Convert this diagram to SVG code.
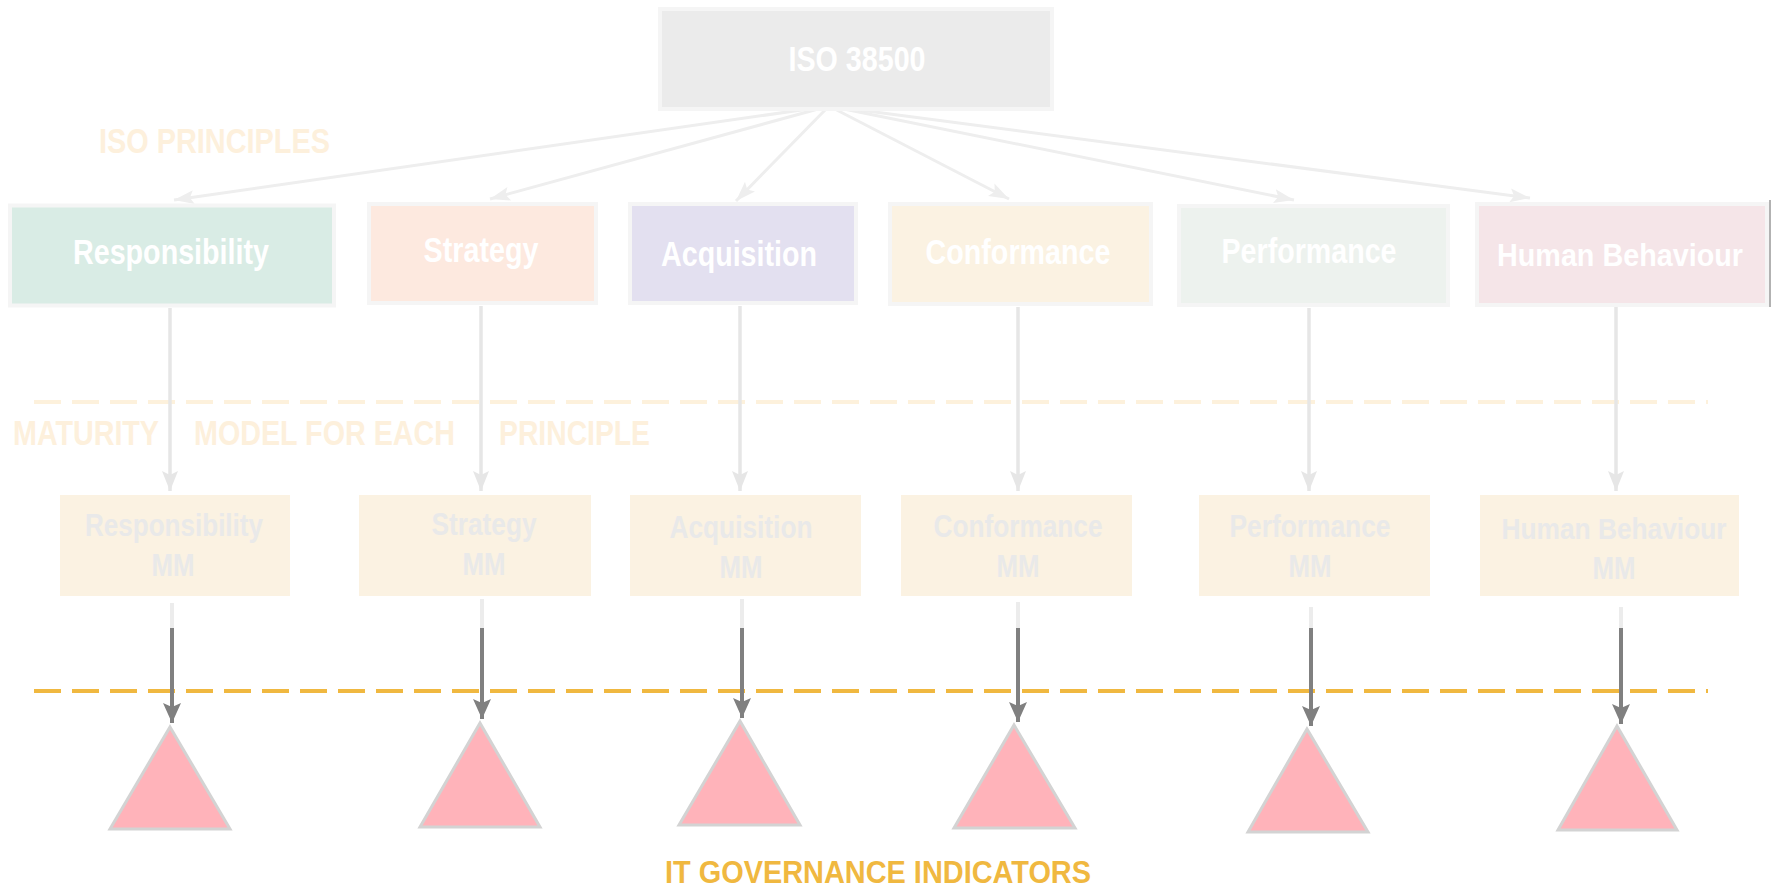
<svg xmlns="http://www.w3.org/2000/svg" width="1771" height="889" viewBox="0 0 1771 889">
<style>
text{font-family:"Liberation Sans",Arial,sans-serif;font-weight:bold;}
.lbl{fill:#ffffff;font-size:35px;text-anchor:middle;}
.mm{fill:#e9e9e9;font-size:32px;text-anchor:middle;}
.sec{fill:#fdf0dc;font-size:35px;}
.top{stroke:#f5f5f5;stroke-width:4;}
.mmbox{fill:#fbf2e2;}
.tri{fill:#ffb3ba;stroke:#d3d3d3;stroke-width:3;stroke-linejoin:miter;}
.fan{stroke:#eeeeee;stroke-width:3;fill:none;marker-end:url(#ah-light);}
.down{stroke:#e6e6e6;stroke-width:3.5;fill:none;marker-end:url(#ah-light2);}
.stub{stroke:#ececec;stroke-width:4;fill:none;}
.dark{stroke:#808080;stroke-width:4;fill:none;marker-end:url(#ah-dark);}
</style>
<defs>
<marker id="ah-light" markerUnits="userSpaceOnUse" markerWidth="22" markerHeight="16" refX="20" refY="8" orient="auto"><path d="M0,1 L20,8 L0,15 L4,8 z" fill="#eeeeee"/></marker>
<marker id="ah-light2" markerUnits="userSpaceOnUse" markerWidth="22" markerHeight="18" refX="20" refY="8" orient="auto"><path d="M0,0 L20,8 L0,16 L4,8 z" fill="#e6e6e6"/></marker>
<marker id="ah-dark" markerUnits="userSpaceOnUse" markerWidth="22" markerHeight="20" refX="20" refY="9" orient="auto"><path d="M0,0 L20,9 L0,18 L4,9 z" fill="#808080"/></marker>
</defs>
<rect width="1771" height="889" fill="#ffffff"/>

<g id="sections">
<text class="sec" x="99" y="153" textLength="231" lengthAdjust="spacingAndGlyphs">ISO PRINCIPLES</text>
<line x1="34" y1="402" x2="1708" y2="402" stroke="#fdf1dc" stroke-width="4" stroke-dasharray="27 11"/>
<text class="sec" y="445"><tspan x="13" textLength="146" lengthAdjust="spacingAndGlyphs">MATURITY</tspan></text>
<text class="sec" y="445"><tspan x="194" textLength="261" lengthAdjust="spacingAndGlyphs">MODEL FOR EACH</tspan></text>
<text class="sec" y="445"><tspan x="499" textLength="151" lengthAdjust="spacingAndGlyphs">PRINCIPLE</tspan></text>
<line x1="34" y1="691" x2="1708" y2="691" stroke="#f0b840" stroke-width="4" stroke-dasharray="27 11"/>
<text x="878" y="883" fill="#f0b840" font-size="32" text-anchor="middle" textLength="426" lengthAdjust="spacingAndGlyphs">IT GOVERNANCE INDICATORS</text>
</g>

<g id="connectors">
<line class="fan" x1="829" y1="106" x2="174" y2="200"/>
<line class="fan" x1="829" y1="106" x2="490" y2="199"/>
<line class="fan" x1="829" y1="106" x2="736" y2="201"/>
<line class="fan" x1="829" y1="106" x2="1009" y2="199"/>
<line class="fan" x1="829" y1="106" x2="1294" y2="200"/>
<line class="fan" x1="829" y1="106" x2="1530" y2="198"/>

<line class="down" x1="170" y1="308" x2="170" y2="491"/>
<line class="down" x1="481" y1="306" x2="481" y2="491"/>
<line class="down" x1="740" y1="306" x2="740" y2="491"/>
<line class="down" x1="1018" y1="307" x2="1018" y2="491"/>
<line class="down" x1="1309" y1="308" x2="1309" y2="491"/>
<line class="down" x1="1616" y1="307" x2="1616" y2="491"/>

<line class="stub" x1="172" y1="603" x2="172" y2="629"/>
<line class="stub" x1="482" y1="599" x2="482" y2="629"/>
<line class="stub" x1="742" y1="599" x2="742" y2="629"/>
<line class="stub" x1="1018" y1="602" x2="1018" y2="629"/>
<line class="stub" x1="1311" y1="607" x2="1311" y2="629"/>
<line class="stub" x1="1621" y1="607" x2="1621" y2="629"/>

<line class="dark" x1="172" y1="628" x2="172" y2="723"/>
<line class="dark" x1="482" y1="628" x2="482" y2="719"/>
<line class="dark" x1="742" y1="628" x2="742" y2="718"/>
<line class="dark" x1="1018" y1="628" x2="1018" y2="722"/>
<line class="dark" x1="1311" y1="628" x2="1311" y2="726"/>
<line class="dark" x1="1621" y1="628" x2="1621" y2="724"/>
</g>

<g id="iso38500">
<rect x="660" y="9" width="392" height="100" fill="#ebebeb" class="top"/>
<text class="lbl" x="857" y="71" textLength="137" lengthAdjust="spacingAndGlyphs">ISO 38500</text>
</g>

<g id="p-responsibility">
<rect class="top" x="10" y="205.5" width="324" height="100" fill="#d9ece5"/>
<text class="lbl" x="171" y="264" textLength="196" lengthAdjust="spacingAndGlyphs">Responsibility</text>
</g>
<g id="p-strategy">
<rect class="top" x="369" y="204" width="227" height="99" fill="#fde9df"/>
<text class="lbl" x="481" y="262" textLength="115" lengthAdjust="spacingAndGlyphs">Strategy</text>
</g>
<g id="p-acquisition">
<rect class="top" x="630" y="204" width="226" height="99" fill="#e3e0f0"/>
<text class="lbl" x="739" y="266" textLength="156" lengthAdjust="spacingAndGlyphs">Acquisition</text>
</g>
<g id="p-conformance">
<rect class="top" x="890" y="204" width="261" height="100" fill="#fbf2e2"/>
<text class="lbl" x="1018" y="264" textLength="185" lengthAdjust="spacingAndGlyphs">Conformance</text>
</g>
<g id="p-performance">
<rect class="top" x="1179" y="206" width="269" height="99" fill="#edf2ee"/>
<text class="lbl" x="1309" y="263" textLength="175" lengthAdjust="spacingAndGlyphs">Performance</text>
</g>
<g id="p-human">
<rect class="top" x="1477" y="204" width="290" height="101" fill="#f5e5e8"/>
<line x1="1770" y1="200" x2="1770" y2="307" stroke="#999999" stroke-width="1.5"/>
<text class="lbl" x="1620" y="266" style="font-size:31px" textLength="246" lengthAdjust="spacingAndGlyphs">Human Behaviour</text>
</g>

<g id="mm-responsibility">
<rect class="mmbox" x="60" y="495" width="230" height="101"/>
<text class="mm" x="174" y="536" textLength="178" lengthAdjust="spacingAndGlyphs">Responsibility</text>
<text class="mm" x="173" y="576" textLength="43" lengthAdjust="spacingAndGlyphs">MM</text>
</g>
<g id="mm-strategy">
<rect class="mmbox" x="359" y="495" width="232" height="101"/>
<text class="mm" x="484" y="535" textLength="105" lengthAdjust="spacingAndGlyphs">Strategy</text>
<text class="mm" x="484" y="575" textLength="43" lengthAdjust="spacingAndGlyphs">MM</text>
</g>
<g id="mm-acquisition">
<rect class="mmbox" x="630" y="495" width="231" height="101"/>
<text class="mm" x="741" y="538" textLength="143" lengthAdjust="spacingAndGlyphs">Acquisition</text>
<text class="mm" x="741" y="578" textLength="43" lengthAdjust="spacingAndGlyphs">MM</text>
</g>
<g id="mm-conformance">
<rect class="mmbox" x="901" y="495" width="231" height="101"/>
<text class="mm" x="1018" y="537" textLength="169" lengthAdjust="spacingAndGlyphs">Conformance</text>
<text class="mm" x="1018" y="577" textLength="43" lengthAdjust="spacingAndGlyphs">MM</text>
</g>
<g id="mm-performance">
<rect class="mmbox" x="1199" y="495" width="231" height="101"/>
<text class="mm" x="1310" y="537" textLength="161" lengthAdjust="spacingAndGlyphs">Performance</text>
<text class="mm" x="1310" y="577" textLength="43" lengthAdjust="spacingAndGlyphs">MM</text>
</g>
<g id="mm-human">
<rect class="mmbox" x="1480" y="495" width="259" height="101"/>
<text class="mm" x="1614" y="539" style="font-size:30px" textLength="225" lengthAdjust="spacingAndGlyphs">Human Behaviour</text>
<text class="mm" x="1614" y="579" textLength="43" lengthAdjust="spacingAndGlyphs">MM</text>
</g>

<g id="ind-responsibility"><polygon class="tri" points="170,727 230,829 110,829"/></g>
<g id="ind-strategy"><polygon class="tri" points="480,723 540,827 420,827"/></g>
<g id="ind-acquisition"><polygon class="tri" points="740,721 800,825 679,825"/></g>
<g id="ind-conformance"><polygon class="tri" points="1014,725 1075,828 954,828"/></g>
<g id="ind-performance"><polygon class="tri" points="1307,729 1368,832 1248,832"/></g>
<g id="ind-human"><polygon class="tri" points="1617,726 1677,830 1558,830"/></g>
</svg>
